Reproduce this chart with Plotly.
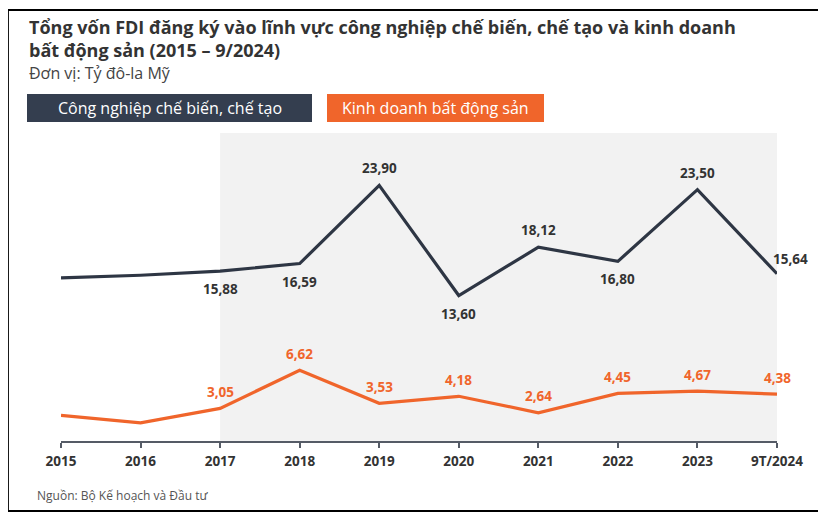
"""
Tổng vốn FDI đăng ký vào CN chế biến, chế tạo và kinh doanh BĐS (2015 – 9/2024)
"""

import plotly.graph_objects as go

# ── Dữ liệu ──────────────────────────────────────────────────────────────────

NAM          = ["2015", "2016", "2017", "2018", "2019", "2020", "2021", "2022", "2023", "9T/2024"]
CHE_TAO      = [15.25, 15.50, 15.88, 16.59, 23.90, 13.60, 18.12, 16.80, 23.50, 15.64]
BAT_DONG_SAN = [2.40, 1.70, 3.05, 6.62, 3.53, 4.18, 2.64, 4.45, 4.67, 4.38]
CO_NHAN      = [False, False, True, True, True, True, True, True, True, True]
TEN_CHE_TAO  = "Công nghiệp chế biến, chế tạo"
TEN_BDS      = "Kinh doanh bất động sản"

# nhãn đường tối: "tren" / "duoi" / "phai"
VI_TRI_TOI = ["duoi", "duoi", "duoi", "duoi", "tren", "duoi", "tren", "duoi", "tren", "phai"]

# ── Cấu hình ─────────────────────────────────────────────────────────────────

# trang có lề 8px quanh hình, nên mọi toạ độ pixel bên dưới trừ đi 8
OFF = 8
W, H = 818, 517
ML, MR, MT, MB = 53, 49, 125, 84
MAU_TOI = "#2e3644"
MAU_HOP = "#343e4f"
MAU_CAM = "#f0652b"
MAU_CHU = "#333333"
FONT    = "Open Sans"


def px_x(x):
    return (x - OFF - ML) / (W - ML - MR)


def px_y(y):
    return (H - MB - (y - OFF)) / (H - MT - MB)


def so(v):
    return f"{v:.2f}".replace(".", ",")


fig = go.Figure()

fig.add_trace(go.Scatter(
    x=NAM, y=CHE_TAO, mode="lines",
    line=dict(color=MAU_TOI, width=3.2),
    name=TEN_CHE_TAO, hoverinfo="skip",
))
fig.add_trace(go.Scatter(
    x=NAM, y=BAT_DONG_SAN, mode="lines",
    line=dict(color=MAU_CAM, width=3.2),
    name=TEN_BDS, hoverinfo="skip",
))

# trục category: dùng chỉ số vị trí cho nhãn
nhan_so = []
for i, (v, co, vt) in enumerate(zip(CHE_TAO, CO_NHAN, VI_TRI_TOI)):
    if not co:
        continue
    a = dict(x=i, y=v, text=so(v), xref="x", yref="y", showarrow=False,
             font=dict(family=FONT, size=13.5, color=MAU_CHU, weight="bold"))
    if vt == "tren":
        a.update(yshift=17)
    elif vt == "duoi":
        a.update(yshift=-18)
    else:
        a.update(xanchor="left", xshift=-6, yshift=15)
    nhan_so.append(a)

for i, (v, co) in enumerate(zip(BAT_DONG_SAN, CO_NHAN)):
    if not co:
        continue
    nhan_so.append(dict(x=i, y=v, text=so(v), xref="x", yref="y", showarrow=False,
                        yshift=16.5,
                        font=dict(family=FONT, size=13.5, color=MAU_CAM, weight="bold")))

shapes = [
    # vùng nền xám 2017 – 9T/2024
    dict(type="rect", xref="x", yref="paper", x0=2, x1=9, y0=0, y1=1,
         fillcolor="#f2f2f2", line_width=0, layer="below"),
    # khung viền
    dict(type="rect", xref="paper", yref="paper",
         x0=px_x(8), x1=px_x(819), y0=px_y(511), y1=px_y(10),
         line=dict(color="black", width=1.8)),
    # hộp chú giải
    dict(type="rect", xref="paper", yref="paper",
         x0=px_x(27), x1=px_x(312), y0=px_y(122), y1=px_y(94),
         fillcolor=MAU_HOP, line_width=0),
    dict(type="rect", xref="paper", yref="paper",
         x0=px_x(327), x1=px_x(544), y0=px_y(122), y1=px_y(94),
         fillcolor=MAU_CAM, line_width=0),
]

chu = [
    dict(text="Tổng vốn FDI đăng ký vào lĩnh vực công nghiệp chế biến, chế tạo và kinh doanh"
              "<br>bất động sản (2015 – 9/2024)",
         x=px_x(27), y=px_y(13), xanchor="left", yanchor="top", align="left",
         font=dict(family=FONT, size=18, color=MAU_CHU, weight="bold")),
    dict(text="Đơn vị: Tỷ đô-la Mỹ",
         x=px_x(27), y=px_y(73), xanchor="left", yanchor="middle",
         font=dict(family=FONT, size=16, color="#444444")),
    dict(text=TEN_CHE_TAO, x=px_x(169.5), y=px_y(108), xanchor="center", yanchor="middle",
         font=dict(family=FONT, size=16, color="white")),
    dict(text=TEN_BDS, x=px_x(435.5), y=px_y(108), xanchor="center", yanchor="middle",
         font=dict(family=FONT, size=16, color="white")),
    dict(text="Nguồn: Bộ Kế hoạch và Đầu tư",
         x=px_x(35), y=px_y(495), xanchor="left", yanchor="middle",
         font=dict(family=FONT, size=12, color="#555555")),
]
for a in chu:
    a.update(xref="paper", yref="paper", showarrow=False)

fig.update_layout(
    width=W, height=H,
    margin=dict(l=ML, r=MR, t=MT, b=MB),
    paper_bgcolor="white", plot_bgcolor="white",
    showlegend=False,
    shapes=shapes, annotations=chu + nhan_so,
    xaxis=dict(
        type="category", range=[0, 9], showgrid=False, zeroline=False,
        showline=True, linecolor="#555b66", linewidth=1.5,
        ticks="outside", ticklen=5, tickcolor="#555b66", tickwidth=1.5,
        ticklabelstandoff=2,
        tickfont=dict(family=FONT, size=13.5, color=MAU_CHU, weight="bold"),
    ),
    yaxis=dict(range=[0, 28.8], visible=False),
)

fig.write_html("out.html")
